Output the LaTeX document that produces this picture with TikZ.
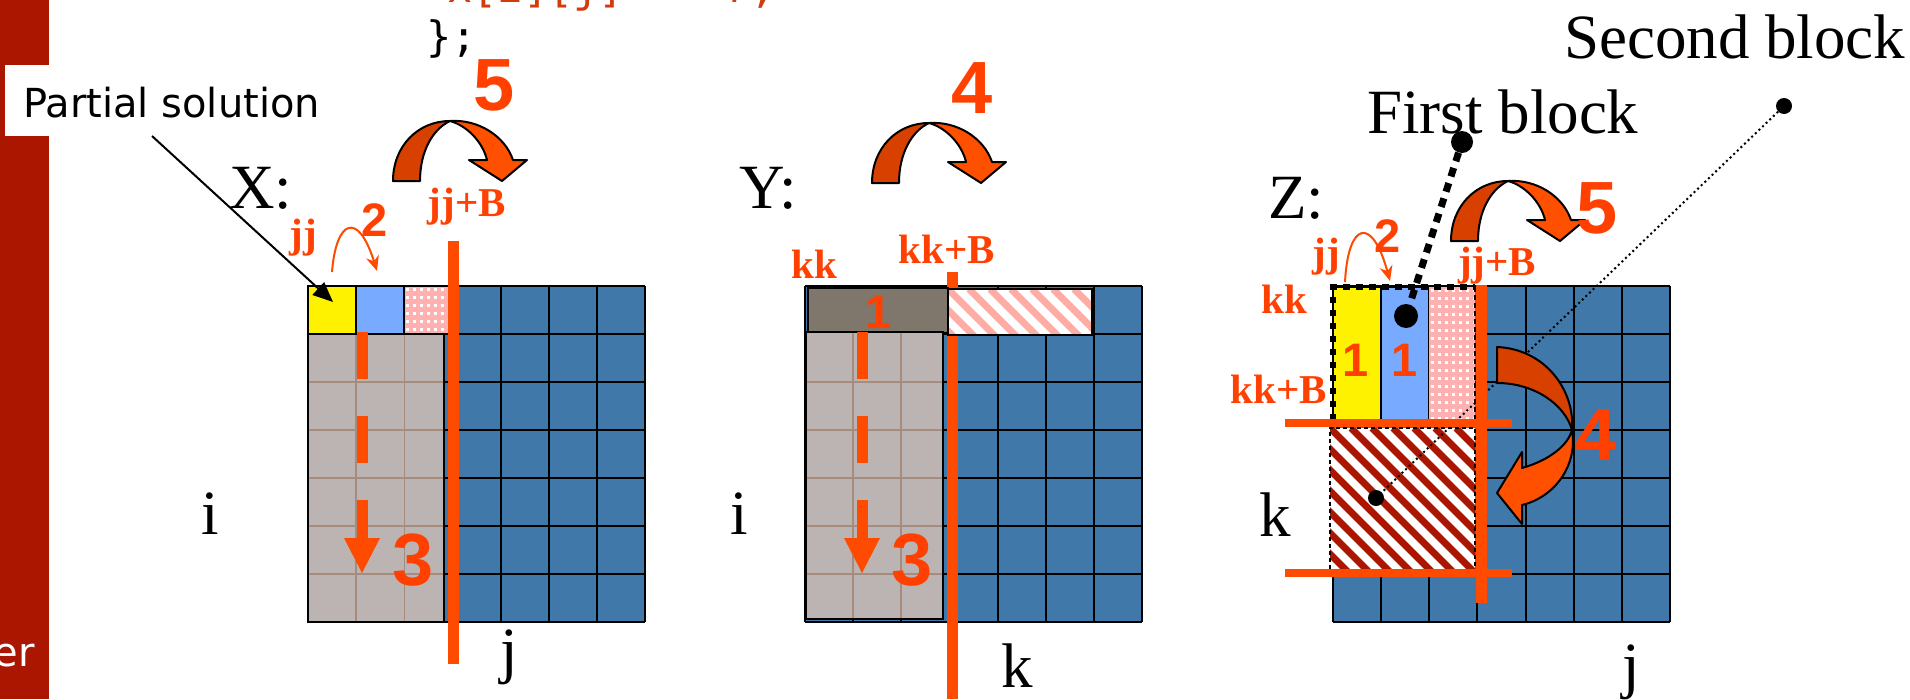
\documentclass[tikz,border=0pt]{standalone}
\usepackage{fontspec}
\setmainfont{Liberation Serif}
\newfontfamily\sansf{Liberation Sans}
\newfontfamily\dvs{DejaVu Sans}
\newfontfamily\monof{DejaVu Sans Mono}
\usetikzlibrary{arrows.meta}

\definecolor{barred}{RGB}{170,22,0}
\definecolor{cellblue}{RGB}{64,120,170}
\definecolor{lblue}{RGB}{120,170,255}
\definecolor{pinkbg}{RGB}{255,176,176}
\definecolor{grayreg}{RGB}{188,180,178}
\definecolor{grayline}{RGB}{165,140,125}
\definecolor{darkbrown}{RGB}{127,118,108}
\definecolor{hpink}{RGB}{255,172,165}
\definecolor{hred}{RGB}{170,22,0}
\definecolor{ored}{RGB}{255,75,0}
\definecolor{otext}{RGB}{255,64,0}
\definecolor{adark}{RGB}{216,64,0}
\definecolor{abright}{RGB}{255,80,0}
\definecolor{codeor}{RGB}{210,60,10}

\tikzset{
  serifl/.style={font=\fontsize{63}{70}\selectfont, inner sep=0pt},
  bl/.style={font=\fontsize{41}{45}\selectfont\bfseries, text=otext, inner sep=0pt},
  bignum/.style={font=\sansf\fontsize{74}{80}\selectfont\bfseries, text=otext, inner sep=0pt},
  midnum/.style={font=\sansf\fontsize{47}{52}\selectfont\bfseries, text=otext, inner sep=0pt},
  redline/.style={draw=ored, line width=11pt},
  redhline/.style={draw=ored, line width=8pt},
  gridline/.style={draw=black, line width=2pt},
  cellbox/.style={draw=black, line width=2pt},
  curvedark/.style={fill=adark, draw=black, line width=2pt, line join=round},
  curvebright/.style={fill=abright, draw=black, line width=2pt, line join=round},
  dotnode/.style={circle, fill=black, inner sep=0pt, minimum size=#1},
  dasharrow/.style={draw=ored, line width=11pt, dash pattern=on 47pt off 37pt},
  smallarrow/.style={draw=ored, line width=2pt, -{Stealth[length=15pt,width=13pt]}},
}

\newcommand\bluegrid[2]{%
  \begin{scope}[shift={(#1,#2)}]
    \fill[cellblue] (0,0) rectangle (337,336);
    \foreach \cc in {0,...,7} \draw[gridline] (\cc*48.14,0) -- (\cc*48.14,336);
    \foreach \rr in {0,...,7} \draw[gridline] (0,\rr*48) -- (337,\rr*48);
  \end{scope}}

\newcommand\pinkdots[4]{%
  \begin{scope}
    \clip (#1,#2) rectangle (#3,#4);
    \fill[pinkbg] (#1,#2) rectangle (#3,#4);
    \foreach \aa in {0,7,...,56} \foreach \bb in {0,8,...,140}
      \fill[white] (#1+\aa+2,#2+\bb+2) rectangle ++(3,3);
  \end{scope}}

\newcommand\hatchbox[5]{%
  \begin{scope}
    \clip (#1,#2) rectangle (#3,#4);
    \fill[white] (#1,#2) rectangle (#3,#4);
    \foreach \hh in {-210,-189,...,210}
      \draw[#5, line width=7pt] (#1+\hh,#2) -- ++(260,260);
  \end{scope}}

\newcommand\bentarrow[2]{%
  \begin{scope}[shift={(#1,#2)}]
    \path[curvedark] (0,0) .. controls (0,-35) and (25,-60) .. (57,-60)
      .. controls (40,-52) and (27,-30) .. (27,0) -- cycle;
    \path[curvebright] (57,-60) .. controls (85,-62) and (112,-45) .. (120,-21)
      -- (134,-21) -- (109,0) -- (76,-21) -- (94,-21)
      .. controls (90,-38) and (75,-55) .. (57,-60) -- cycle;
  \end{scope}}

\begin{document}
\begin{tikzpicture}[x=1pt,y=-1pt]
\useasboundingbox (0,0) rectangle (1910,699);
\fill[white] (0,0) rectangle (1910,699);

% left bar
\fill[barred] (0,0) rectangle (49,699);
\node[font=\dvs\fontsize{40}{44}\selectfont, text=white, anchor=base east, inner sep=0pt] (er) at (35,666) {er};

% code fragments
\node[font=\monof\fontsize{42}{46}\selectfont, text=codeor, anchor=base west, inner sep=0pt] (code1) at (447,2) {x[i][j] += r;};
\node[font=\monof\fontsize{42}{46}\selectfont, text=black, anchor=base west, inner sep=0pt] (code2) at (426,51) {\};};

% Partial solution label
\fill[white] (5,65) rectangle (353,136);
\node[font=\dvs\fontsize{40}{44}\selectfont, anchor=base west, inner sep=0pt] (ps) at (23,117) {Partial solution};
\coordinate (pss) at (152,136);
\coordinate (pst) at (333,302);

% ================= X =================
\bluegrid{308}{286}
\fill[yellow] (308,286) rectangle (356,334);
\draw[cellbox] (308,286) rectangle (356,334);
\fill[lblue] (356,286) rectangle (404,334);
\draw[cellbox] (356,286) rectangle (404,334);
\pinkdots{404}{286}{452}{334}
\draw[cellbox] (404,286) rectangle (452,334);
\fill[grayreg] (308,334) rectangle (444,622);
\foreach \gx in {356.1,404.3} \draw[grayline, line width=1.5pt] (\gx,334) -- (\gx,622);
\foreach \gy in {382,430,478,526,574} \draw[grayline, line width=1.5pt] (308,\gy) -- (444,\gy);
\draw[cellbox] (308,334) rectangle (444,622);
\draw[redline] (453,241) -- (453,664);
\draw[dasharrow] (362,332) -- (362,540);
\fill[ored] (344,538) -- (380,538) -- (362,573) -- cycle;
\draw[line width=2pt, -{Triangle[length=20pt,width=17pt]}] (pss) -- (pst);
\bentarrow{393}{181}
\coordinate (x2s) at (332,272);
\coordinate (x2e) at (377,271);
\draw[smallarrow] (x2s) .. controls (336,220) and (358,210) .. (x2e);

\node[serifl] (xl) at (261,188) {X:};
\node[serifl] (xi) at (210,514) {i};
\node[serifl] (xj) at (509,657) {j};
\node[bl] (xjj) at (303,238) {jj};
\node[bl] (xjjb) at (467,207) {jj+B};
\node[midnum] (x2) at (375,220) {2};
\node[bignum] (x5) at (494,85) {5};
\node[bignum] (x3) at (413,560) {3};

% ================= Y =================
\bluegrid{805}{286}
\draw[redline] (952,272) -- (952,699);
\fill[darkbrown] (808,288) rectangle (948,333);
\draw[cellbox] (808,288) rectangle (948,333);
\hatchbox{948}{289}{1092}{335}{hpink}
\draw[cellbox] (948,289) rectangle (1092,335);
\fill[grayreg] (806,332) rectangle (943,619);
\foreach \gx in {853,901} \draw[grayline, line width=1.5pt] (\gx,332) -- (\gx,619);
\foreach \gy in {382,430,478,526,574} \draw[grayline, line width=1.5pt] (806,\gy) -- (943,\gy);
\draw[cellbox] (806,332) rectangle (943,619);
\draw[dasharrow] (862,332) -- (862,540);
\fill[ored] (844,538) -- (880,538) -- (862,573) -- cycle;
\bentarrow{872}{183}

\node[serifl] (yl) at (768,188) {Y:};
\node[serifl] (yi) at (739,514) {i};
\node[serifl] (yk) at (1017,666) {k};
\node[bl] (ykk) at (814,264) {kk};
\node[bl] (ykkb) at (947,249) {kk+B};
\node[midnum] (y1) at (879,312) {1};
\node[bignum] (y4) at (972,88) {4};
\node[bignum] (y3) at (912,560) {3};

% ================= Z =================
\bluegrid{1333}{286}
\fill[yellow] (1333,287) rectangle (1381,420);
\draw[cellbox] (1333,287) rectangle (1381,420);
\fill[lblue] (1381,287) rectangle (1429,420);
\draw[cellbox] (1381,287) rectangle (1429,420);
\pinkdots{1429}{287}{1475}{420}
\hatchbox{1330}{428}{1475}{569}{hred}
\draw[line width=1.2pt, dash pattern=on 4pt off 3pt] (1330,569) -- (1330,428) -- (1475,428) -- (1475,569);

\node[dotnode=16pt] (sb) at (1784,106) {};
\node[dotnode=16pt] (sbin) at (1376,498) {};
\draw[line width=2pt, dash pattern=on 2pt off 3pt] (sb) -- (sbin);

\draw[line width=6.5pt, dash pattern=on 6.5pt off 6.5pt] (1333,420) -- (1333,287) -- (1475,287);
\draw[line width=1.5pt, dash pattern=on 5pt off 3pt] (1475,287) -- (1475,420);

\draw[redline] (1481,285) -- (1481,603);
\draw[redhline] (1285,423) -- (1512,423);
\draw[redhline] (1285,573) -- (1512,573);

\bentarrow{1451}{241}
\path[curvedark] (1497,347) .. controls (1545,349) and (1575,390) .. (1572,430)
   .. controls (1565,405) and (1535,383) .. (1497,383) -- cycle;
\path[curvebright] (1572,430) .. controls (1578,465) and (1555,497) .. (1522,505)
   -- (1522,524) -- (1497,493) -- (1522,452) -- (1522,468)
   .. controls (1550,460) and (1568,445) .. (1572,430) -- cycle;

\coordinate (z2s) at (1345,282);
\coordinate (z2e) at (1390,281);
\draw[smallarrow] (z2s) .. controls (1348,222) and (1372,215) .. (z2e);

\node[font=\fontsize{63}{70}\selectfont, anchor=base west, inner sep=0pt] (fbl) at (1367,133) {First block};
\node[font=\fontsize{63}{70}\selectfont, anchor=base west, inner sep=0pt] (sbl) at (1564,58) {Second block};
\node[dotnode=22pt] (fb) at (1462,142) {};
\node[dotnode=24pt] (fbin) at (1406,316) {};
\draw[line width=7pt, dash pattern=on 9pt off 7pt] (fb) -- (fbin);

\node[serifl] (zl) at (1296,198) {Z:};
\node[serifl] (zk) at (1275,515) {k};
\node[serifl] (zj) at (1631,672) {j};
\node[bl] (zkk) at (1284,299) {kk};
\node[bl] (zkkb) at (1279,389) {kk+B};
\node[bl] (zjj) at (1326,257) {jj};
\node[bl] (zjjb) at (1497,266) {jj+B};
\node[midnum] (z2) at (1388,236) {2};
\node[midnum] (z1a) at (1356,360) {1};
\node[midnum] (z1b) at (1405,360) {1};
\node[bignum] (z5) at (1597,208) {5};
\node[bignum] (z4) at (1596,435) {4};
\end{tikzpicture}
\end{document}
